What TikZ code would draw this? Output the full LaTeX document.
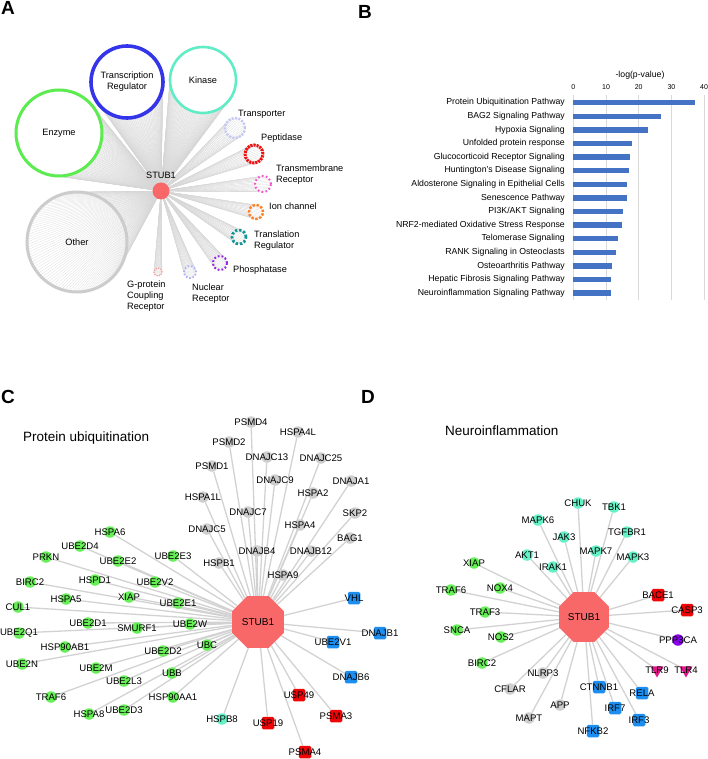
\documentclass[tikz,border=0pt]{standalone}
\usepackage{fontspec}
\setmainfont{Liberation Sans}
\usepackage{xcolor}
\usepackage{tikz}
\usetikzlibrary{calc, positioning, shapes.geometric, backgrounds}

\definecolor{stubred}{RGB}{248, 104, 104}
\definecolor{edgegrey}{RGB}{210, 210, 210}
\definecolor{fangrey}{RGB}{214, 214, 214}
\definecolor{genegreen}{RGB}{104, 238, 88}
\definecolor{genegrey}{RGB}{206, 206, 206}
\definecolor{geneaqua}{RGB}{102, 240, 198}
\definecolor{geneblue}{RGB}{28, 142, 240}
\definecolor{genered}{RGB}{238, 6, 6}
\definecolor{genepurple}{RGB}{136, 0, 238}
\definecolor{genepink}{RGB}{224, 22, 140}
\definecolor{barblue}{RGB}{68, 114, 196}
\definecolor{gridgrey}{RGB}{217, 217, 217}
\definecolor{trblue}{RGB}{52, 52, 232}
\definecolor{kinaseaqua}{RGB}{96, 236, 196}
\definecolor{enzymegreen}{RGB}{92, 236, 80}
\definecolor{othergrey}{RGB}{204, 204, 204}
\definecolor{transportlav}{RGB}{198, 198, 246}
\definecolor{peptred}{RGB}{236, 16, 16}
\definecolor{tmrpink}{RGB}{240, 84, 196}
\definecolor{ionorange}{RGB}{255, 128, 36}
\definecolor{tlrteal}{RGB}{20, 150, 150}
\definecolor{phospurple}{RGB}{150, 36, 232}
\definecolor{nrlav}{RGB}{176, 176, 246}
\definecolor{gpcrpink}{RGB}{246, 160, 160}

\tikzset{
  paneltag/.style={font=\fontsize{19}{19}\selectfont\bfseries, inner sep=0pt},
  paneltitle/.style={anchor=west, inner sep=0pt, font=\fontsize{13.5}{15}\selectfont},
  note/.style={align=left, inner sep=0pt, font=\fontsize{9.2}{10.8}\selectfont},
  fanline/.style={draw=fangrey, line width=0.2pt},
  edge/.style={draw=edgegrey, line width=1.3pt},
  genelabel/.style={font=\fontsize{9.6}{10}\selectfont, inner sep=0pt},
  genedot/.style={circle, inner sep=0pt, minimum size=11.5pt},
  genebox/.style={rectangle, rounded corners=1.5pt, inner sep=0pt, minimum size=12.5pt},
  genevee/.style={regular polygon, regular polygon sides=3, shape border rotate=180,
    inner sep=0pt, minimum size=15pt},
  stubhub/.style={regular polygon, regular polygon sides=8, inner sep=0pt,
    minimum size=56pt, fill=stubred, font=\fontsize{10}{10}\selectfont}
}

\begin{document}
\begin{tikzpicture}[
    x=1pt, y=-1pt,
    bigring/.style={circle, inner sep=0pt, align=center, fill=white,
      font=\fontsize{9.2}{10.8}\selectfont},
    smallring/.style={circle, inner sep=0pt, line width=2.4pt},
    pathlabel/.style={anchor=east, inner sep=0pt, font=\fontsize{8.7}{10}\selectfont},
    ticktext/.style={inner sep=0pt, font=\fontsize{7}{8}\selectfont}
  ]
  \useasboundingbox (0,0) rectangle (708,759);

  % A: protein classes linked to STUB1
  \node[paneltag] (a-tag) at (8,8) {A};

  \node[bigring, draw=trblue, line width=3.6pt, minimum size=72pt] (a-tr) at (127,82) {Transcription\\Regulator};
  \node[bigring, draw=kinaseaqua, line width=2.6pt, minimum size=66pt] (a-kinase) at (203,80) {Kinase};
  \node[bigring, draw=enzymegreen, line width=3pt, minimum size=86pt] (a-enzyme) at (59,133) {Enzyme};
  \node[bigring, draw=othergrey, line width=3pt, minimum size=100pt, fill=none] (a-other) at (77,242) {Other};

  \node[smallring, draw=transportlav, dash pattern=on 2pt off 1.4pt, minimum size=20pt] (a-trans) at (235,128) {};
  \node[smallring, draw=peptred, line width=3pt, dash pattern=on 2.2pt off 0.9pt, minimum size=18pt] (a-pep) at (254,154) {};
  \node[smallring, draw=tmrpink, line width=2pt, dash pattern=on 1.6pt off 2.4pt, minimum size=16pt] (a-tmr) at (263,184) {};
  \node[smallring, draw=ionorange, dash pattern=on 2.4pt off 1.6pt, minimum size=14pt] (a-ion) at (256,212) {};
  \node[smallring, draw=tlrteal, line width=2.8pt, dash pattern=on 2.4pt off 1.8pt, minimum size=14pt] (a-tlr) at (239,237) {};
  \node[smallring, draw=phospurple, line width=2pt, dash pattern=on 1.8pt off 2pt, minimum size=14pt] (a-phos) at (220,263) {};
  \node[smallring, draw=nrlav, line width=1.8pt, dash pattern=on 1.6pt off 1.8pt, minimum size=12pt] (a-nr) at (190,272) {};
  \node[smallring, draw=gpcrpink, line width=1.4pt, dash pattern=on 1.2pt off 1.2pt, minimum size=8pt] (a-gpcr) at (158,272) {};

  \node[circle, fill=stubred, inner sep=0pt, minimum size=17pt] (a-stub) at (161,191) {};
  \node[note, above=4pt of a-stub] (a-stublabel) {STUB1};

  \begin{scope}[on background layer]
    \foreach \ring/\r/\n in {a-tr/36/3, a-kinase/33/3, a-enzyme/43/3, a-other/50/3}
      \foreach \a in {0,\n,...,359}
        \draw[fanline] (a-stub.center) -- ($(\ring.center)+(\a:\r)$);
    \foreach \ring/\r in {a-trans/10, a-pep/9, a-tmr/8, a-ion/7, a-tlr/7, a-phos/7,
        a-nr/6, a-gpcr/4}
      \foreach \a in {0,12,...,348}
        \draw[fanline] (a-stub.center) -- ($(\ring.center)+(\a:\r)$);
  \end{scope}

  \node[note, anchor=west] (a-translabel) at (238,114) {Transporter};
  \node[note, anchor=west] (a-peplabel) at (261,138) {Peptidase};
  \node[note, anchor=west] (a-tmrlabel) at (276,175) {Transmembrane\\Receptor};
  \node[note, anchor=west] (a-ionlabel) at (269,206) {Ion channel};
  \node[note, anchor=west] (a-tlrlabel) at (254,241) {Translation\\Regulator};
  \node[note, anchor=west] (a-phoslabel) at (233,270) {Phosphatase};
  \node[note, anchor=north west] (a-nrlabel) at (192,284) {Nuclear\\Receptor};
  \node[note, anchor=north west] (a-gpcrlabel) at (127,281) {G-protein\\Coupling\\Receptor};

  % B: enriched pathways
  \node[paneltag] (b-tag) at (365,12) {B};
  \node[inner sep=0pt, font=\fontsize{8.7}{10}\selectfont] (b-axis) at (640,75) {-log(p-value)};
  \foreach \v in {0,10,20,30,40} {
    \draw[gridgrey, line width=0.8pt] (573.3+3.27*\v, 95) -- (573.3+3.27*\v, 300);
    \node[ticktext] (b-tick\v) at (573.3+3.27*\v, 87) {\v};
  }
  \foreach \v/\txt [count=\i] in {37.2/Protein Ubiquitination Pathway,
      26.7/BAG2 Signaling Pathway, 22.7/Hypoxia Signaling,
      18.0/Unfolded protein response, 17.3/Glucocorticoid Receptor Signaling,
      16.9/Huntington's Disease Signaling, 16.5/Aldosterone Signaling in Epithelial Cells,
      16.3/Senescence Pathway, 15.3/{PI3K/AKT Signaling},
      14.9/NRF2-mediated Oxidative Stress Response, 13.8/Telomerase Signaling,
      13.1/RANK Signaling in Osteoclasts, 11.7/Osteoarthritis Pathway,
      11.5/Hepatic Fibrosis Signaling Pathway, 11.4/Neuroinflammation Signaling Pathway} {
    \fill[barblue] (573.3, 100+13.6*\i-13.6) rectangle ++(3.27*\v, 5.4);
    \node[pathlabel] (b-path\i) at (565, 102.7+13.6*\i-13.6) {\txt};
  }

  % C: protein ubiquitination network
  \node[paneltag] (c-tag) at (8,397) {C};
  \node[paneltitle] (c-title) at (23,438) {Protein ubiquitination};
  \node[stubhub] (c-stub) at (258,622) {STUB1};

  \foreach \g/\x/\y in {HSPA6/110/532, UBE2D4/80/546, PRKN/46/557, UBE2E2/118/561,
      UBE2E3/173/556, BIRC2/30/582, HSPD1/95/580, UBE2V2/155/582, HSPA5/66/599,
      XIAP/129/597, UBE2E1/178/603, CUL1/18/607, UBE2D1/88/623, SMURF1/137/628,
      UBE2W/190/624, UBE2Q1/19/633, HSP90AB1/65/647, UBE2D2/163/651, UBC/207/645,
      UBE2N/22/664, UBE2M/96/668, UBB/172/673, UBE2L3/124/681, TRAF6/51/697,
      HSP90AA1/173/697, HSPA8/89/714, UBE2D3/124/710} {
    \node[genedot, fill=genegreen, label={[genelabel]center:\g}] (c-\g) at (\x,\y) {};
    \begin{pgfonlayer}{background}\draw[edge] (c-stub) -- (c-\g);\end{pgfonlayer}
  }
  \foreach \g/\x/\y in {PSMD4/251/422, HSPA4L/298/432, PSMD2/229/442, DNAJC13/267/457,
      DNAJC25/321/458, PSMD1/212/466, DNAJC9/275/480, DNAJA1/351/481, HSPA2/313/493,
      HSPA1L/203/497, DNAJC7/248/512, SKP2/355/513, HSPA4/300/525, DNAJC5/207/529,
      BAG1/350/538, DNAJB4/257/551, DNAJB12/311/551, HSPB1/219/563, HSPA9/283/575} {
    \node[genedot, fill=genegrey, label={[genelabel]center:\g}] (c-\g) at (\x,\y) {};
    \begin{pgfonlayer}{background}\draw[edge] (c-stub) -- (c-\g);\end{pgfonlayer}
  }
  \foreach \g/\x/\y in {VHL/354/598, UBE2V1/333/642, DNAJB1/380/633, DNAJB6/351/677} {
    \node[genebox, fill=geneblue, label={[genelabel]center:\g}] (c-\g) at (\x,\y) {};
    \begin{pgfonlayer}{background}\draw[edge] (c-stub) -- (c-\g);\end{pgfonlayer}
  }
  \foreach \g/\x/\y in {USP49/299/695, USP19/268/723, PSMA3/336/716, PSMA4/305/752} {
    \node[genebox, fill=genered, label={[genelabel]center:\g}] (c-\g) at (\x,\y) {};
    \begin{pgfonlayer}{background}\draw[edge] (c-stub) -- (c-\g);\end{pgfonlayer}
  }
  \node[genedot, fill=geneaqua, label={[genelabel]center:HSPB8}] (c-HSPB8) at (222,719) {};
  \begin{pgfonlayer}{background}\draw[edge] (c-stub) -- (c-HSPB8);\end{pgfonlayer}

  % D: neuroinflammation network
  \node[paneltag] (d-tag) at (368,397) {D};
  \node[paneltitle] (d-title) at (445,431) {Neuroinflammation};
  \node[stubhub, minimum size=54pt] (d-stub) at (584,617) {STUB1};

  \foreach \g/\x/\y in {XIAP/474/563, TRAF6/451/590, NOX4/500/588, TRAF3/485/612,
      SNCA/457/630, NOS2/501/637, BIRC2/482/663} {
    \node[genedot, fill=genegreen, label={[genelabel]center:\g}] (d-\g) at (\x,\y) {};
    \begin{pgfonlayer}{background}\draw[edge] (d-stub) -- (d-\g);\end{pgfonlayer}
  }
  \foreach \g/\x/\y in {CHUK/578/503, TBK1/614/507, MAPK6/538/520, JAK3/564/537,
      TGFBR1/627/532, AKT1/527/555, MAPK7/596/551, MAPK3/633/557, IRAK1/553/567} {
    \node[genedot, fill=geneaqua, label={[genelabel]center:\g}] (d-\g) at (\x,\y) {};
    \begin{pgfonlayer}{background}\draw[edge] (d-stub) -- (d-\g);\end{pgfonlayer}
  }
  \foreach \g/\x/\y in {NLRP3/543/673, CFLAR/510/689, APP/560/705, MAPT/529/718} {
    \node[genedot, fill=genegrey, label={[genelabel]center:\g}] (d-\g) at (\x,\y) {};
    \begin{pgfonlayer}{background}\draw[edge] (d-stub) -- (d-\g);\end{pgfonlayer}
  }
  \foreach \g/\x/\y in {CTNNB1/599/687, RELA/642/693, IRF7/615/708, IRF3/639/720,
      NFKB2/593/731} {
    \node[genebox, fill=geneblue, label={[genelabel]center:\g}] (d-\g) at (\x,\y) {};
    \begin{pgfonlayer}{background}\draw[edge] (d-stub) -- (d-\g);\end{pgfonlayer}
  }
  \foreach \g/\x/\y in {BACE1/658/595, CASP3/687/610} {
    \node[genebox, fill=genered, label={[genelabel]center:\g}] (d-\g) at (\x,\y) {};
    \begin{pgfonlayer}{background}\draw[edge] (d-stub) -- (d-\g);\end{pgfonlayer}
  }
  \node[genedot, fill=genepurple, label={[genelabel]center:PPP3CA}] (d-PPP3CA) at (678,640) {};
  \begin{pgfonlayer}{background}\draw[edge] (d-stub) -- (d-PPP3CA);\end{pgfonlayer}
  \foreach \g/\x/\y in {TLR9/657/670, TLR4/686/670} {
    \node[genevee, fill=genepink, label={[genelabel]center:\g}] (d-\g) at (\x,\y) {};
    \begin{pgfonlayer}{background}\draw[edge] (d-stub) -- (d-\g);\end{pgfonlayer}
  }
\end{tikzpicture}
\end{document}
